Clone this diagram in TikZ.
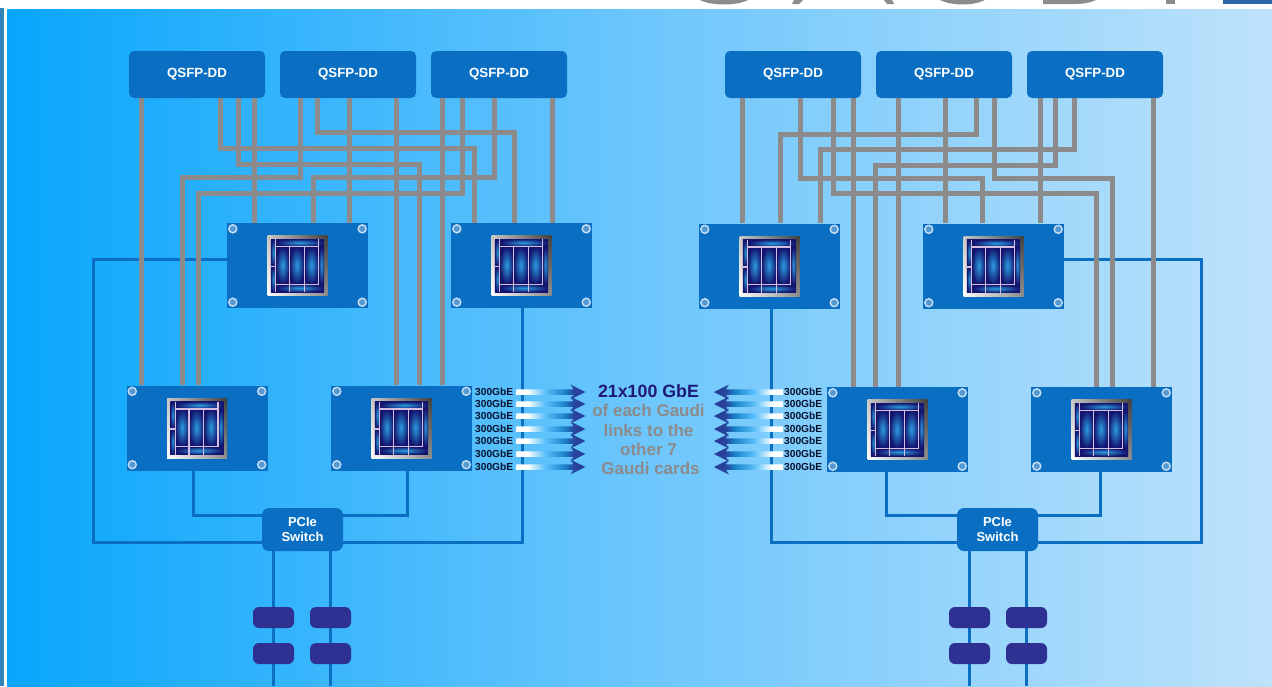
\documentclass[tikz,border=0pt]{standalone}
\usepackage{fontspec}
\setmainfont{Liberation Sans}
\usetikzlibrary{arrows.meta,positioning,shadings}

\definecolor{gaudiblue}{HTML}{0A6FC2}
\definecolor{linkgrey}{HTML}{8C8A8B}
\definecolor{blockblue}{HTML}{2E3192}
\definecolor{chipnavy}{HTML}{14146E}
\definecolor{chipglow}{HTML}{2A9BE0}
\definecolor{chipline}{HTML}{D3BEE0}
\definecolor{titlenavy}{HTML}{1E1A78}
\definecolor{gbetext}{HTML}{05122E}
\definecolor{logogrey}{HTML}{8C8C8C}
\definecolor{logoblue}{HTML}{2A66A8}
\definecolor{pagea}{HTML}{08A6FC}
\definecolor{pageb}{HTML}{6CC6FC}
\definecolor{pagec}{HTML}{BEE2FB}

\pgfdeclarehorizontalshading{pagefade}{100bp}{
  color(0bp)=(pagea);
  color(25bp)=(pagea);
  color(50bp)=(pageb);
  color(75bp)=(pagec);
  color(100bp)=(pagec)}
\definecolor{fadea}{HTML}{58BFF9}
\definecolor{fadeb}{HTML}{1A82C9}
\definecolor{fadec}{HTML}{27479F}
\definecolor{faded}{HTML}{2B3A96}
\pgfdeclarehorizontalshading{linkfade}{100bp}{
  color(0bp)=(white);
  color(25bp)=(white);
  color(33bp)=(white);
  color(46bp)=(fadea);
  color(60bp)=(fadeb);
  color(66bp)=(fadec);
  color(75bp)=(faded);
  color(100bp)=(faded)}

\tikzset{
  qsfp/.style={fill=gaudiblue,rounded corners=5pt,minimum width=136pt,minimum height=47pt,inner sep=0pt,
    text=white,font=\fontsize{13.3}{15}\selectfont\bfseries},
  card/.style={fill=gaudiblue,minimum width=141pt,minimum height=85pt,inner sep=0pt},
  switchbox/.style={fill=gaudiblue,rounded corners=7pt,minimum width=81pt,minimum height=43pt,inner sep=0pt,
    text=white,align=center,font=\fontsize{13}{14.5}\selectfont\bfseries},
  block/.style={fill=blockblue,rounded corners=6pt,minimum width=41pt,minimum height=21pt,inner sep=0pt},
  qlink/.style={draw=linkgrey,line width=5pt},
  pcie/.style={draw=gaudiblue,line width=3pt},
  hole/.style={draw=white!78!gaudiblue,fill=gaudiblue!70!white,line width=1.4pt,circle,minimum size=8pt,inner sep=0pt},
  gbe/.style={text=gbetext,inner sep=0pt,font=\fontsize{10.2}{11}\selectfont\bfseries},
  sidenote/.style={text=linkgrey,inner sep=0pt,font=\fontsize{17}{18}\selectfont\bfseries},
  glow/.style={inner color=chipglow,outer color=chipnavy},
  chipwire/.style={draw=chipline,line width=1.3pt}
}

\newcommand{\gaudichip}{
  \shade[upper left=black!22,upper right=black!75,lower left=white,lower right=black!45] (-30,-30) rectangle (30,30);
  \fill[chipnavy] (-26.7,-26.5) rectangle (26.7,26.5);
  \foreach \xa/\ya/\xb/\yb in {-21.7/-19/-8/18.7,-8/-19/6.7/18.7,6.7/-19/21/18.7,
    -26.7/-26.5/-21.7/1,-26.7/1/-21.7/26.5,21/-19/26.7/18.7,-21.7/-26.5/26.7/-19,-21.7/18.7/26.7/26.5} {
    \shade[glow] (\xa,\ya) rectangle (\xb,\yb);
  }
  \draw[chipwire] (-21.7,-19) -- (21,-19) (-21.7,18.7) -- (21,18.7);
  \draw[chipwire] (-21.7,-26.5) -- (-21.7,26.5) (-26.7,1) -- (-21.7,1);
  \draw[chipwire] (-8,-19) -- (-8,26.5) (6.7,-19) -- (6.7,26.5) (21,-26.5) -- (21,18.7);
}

\begin{document}
\begin{tikzpicture}[x=1pt,y=-1pt]
\useasboundingbox (0,0) rectangle (1272,686);
\fill[white] (0,0) rectangle (1272,686);

% clipped logo at the top edge
\fill[logogrey] (700,0) .. controls (712,6) and (736,6) .. (748,0) -- cycle;
\fill[logogrey] (794,0) -- (803,0) -- (799,4) -- (792,4) -- cycle;
\fill[logogrey] (884,0) -- (892,0) -- (894,4) -- (887,4) -- cycle;
\fill[logogrey] (940,0) .. controls (952,6) and (973,6) .. (985,0) -- cycle;
\fill[logogrey] (1043,0) -- (1096,0) .. controls (1090,3) and (1082,4) .. (1075,4) -- (1043,4) -- cycle;
\fill[logogrey] (1166,0) rectangle (1175,3.5);
\fill[logoblue] (1223,0) rectangle (1272,3.5);

\shade[shading=pagefade] (7,9.5) rectangle (1272,686);
\fill[cyan!30!gaudiblue] (0,8) rectangle (4,686);

% the six QSFP-DD cages
\foreach \nm/\cx in {qa/197,qb/348,qc/499,qd/793,qe/944,qf/1095} {
  \node[qsfp] (\nm) at (\cx,74.5) {QSFP-DD};
}

% the eight Gaudi cards
\foreach \nm/\cx/\cy in {ca/297.5/265.5,cb/521.5/265.5,cc/197/428,cd/401.5/428,
  ce/769.5/266,cf/993.5/266,cg/897.5/429.5,ch/1101.5/429.5} {
  \node[card] (\nm) at (\cx,\cy) {};
  \node[hole] (\nm tl) at ([xshift=6pt,yshift=-6pt]\nm.north west) {};
  \node[hole] (\nm tr) at ([xshift=-6pt,yshift=-6pt]\nm.north east) {};
  \node[hole] (\nm bl) at ([xshift=6pt,yshift=6pt]\nm.south west) {};
  \node[hole] (\nm br) at ([xshift=-6pt,yshift=6pt]\nm.south east) {};
  \begin{scope}[shift={(\nm.center)}]
    \gaudichip
  \end{scope}
}

\node[switchbox] (sl) at (302.5,529.5) {PCIe\\Switch};
\node[switchbox] (sr) at (997.5,529.5) {PCIe\\Switch};

% PCIe wiring
\draw[pcie] ([yshift=6.5pt]ca.west) -| (93,542) -- (sl.west |- 0,542);
\draw[pcie] (522,0 |- cb.south) |- (sl.east |- 0,542);
\draw[pcie] (193,0 |- cc.south) |- (sl.west |- 0,515);
\draw[pcie] (407,0 |- cd.south) |- (sl.east |- 0,515);
\draw[pcie] (771,0 |- ce.south) |- (sr.west |- 0,542);
\draw[pcie] ([yshift=6.5pt]cf.east) -| (1201,542) -- (sr.east |- 0,542);
\draw[pcie] (886,0 |- cg.south) |- (sr.west |- 0,515);
\draw[pcie] (1100,0 |- ch.south) |- (sr.east |- 0,515);

% risers under the switches, blocks sit on top
\foreach \nm/\sw/\cx in {pa/sl/273.5,pb/sl/330.5,pc/sr/969.5,pd/sr/1026.5} {
  \coordinate (\nm end) at (\cx,686);
  \draw[pcie] (\sw.south -| \nm end) -- (\nm end);
  \node[block] (\nm up) at (\cx,617.5) {};
  \node[block] (\nm lo) at (\cx,653.5) {};
}

% straight QSFP links
\foreach \x/\from/\to in {141/qa/cc,254/qa/ca,349/qb/ca,396/qb/cd,442/qc/cd,552/qc/cb,
  742/qd/ce,853/qd/cg,898/qe/cg,945/qe/cf,1040/qf/cf,1153/qf/ch} {
  \draw[qlink] (\x,0 |- \from.south) -- (\x,0 |- \to.north);
}
% QSFP links with a jog
\foreach \x/\ym/\xe/\from/\to in {220/148/474/qa/cb,238/164/419/qa/cd,300/177/182/qb/cc,317/132/514/qb/cb,
  462/193/198/qc/cc,494/177/313/qc/ca,
  800/178/982/qd/cf,833/193/1096/qd/ch,976/134/780/qe/ce,994/178/1112/qe/ch,
  1055/165/875/qf/cg,1074/149/820/qf/ce} {
  \draw[qlink] (\x,0 |- \from.south) |- (\xe,\ym) -- (\xe,0 |- \to.north);
}

% 300GbE labels and fading arrows
\foreach \i/\y in {1/392,2/404,3/416,4/429,5/441,6/454,7/467} {
  \node[gbe,anchor=west] (gl\i) at (475,\y) {300GbE};
  \node[gbe,anchor=west] (gr\i) at (784,\y) {300GbE};
  \shade[shading=linkfade] ([xshift=3pt,yshift=2.75pt]gl\i.east) -- ++(57,0) -- ++(-3,-4.75) -- ++(15,7.5) -- ++(-15,7.5) -- ++(3,-4.75) -- ++(-57,0) -- cycle;
  \shade[shading=linkfade,shading angle=180] ([xshift=-1pt,yshift=2.75pt]gr\i.west) -- ++(-57,0) -- ++(3,-4.75) -- ++(-15,7.5) -- ++(15,7.5) -- ++(-3,-4.75) -- ++(57,0) -- cycle;
}

\node[text=titlenavy,inner sep=0pt,font=\fontsize{17.8}{19}\selectfont\bfseries] (title) at (648.5,391) {21x100 GbE};
\node[sidenote] (note a) at (648.5,410) {of each Gaudi};
\node[sidenote] (note b) at (648.5,430) {links to the};
\node[sidenote] (note c) at (648.5,449) {other 7};
\node[sidenote] (note d) at (650.5,468) {Gaudi cards};
\end{tikzpicture}
\end{document}
